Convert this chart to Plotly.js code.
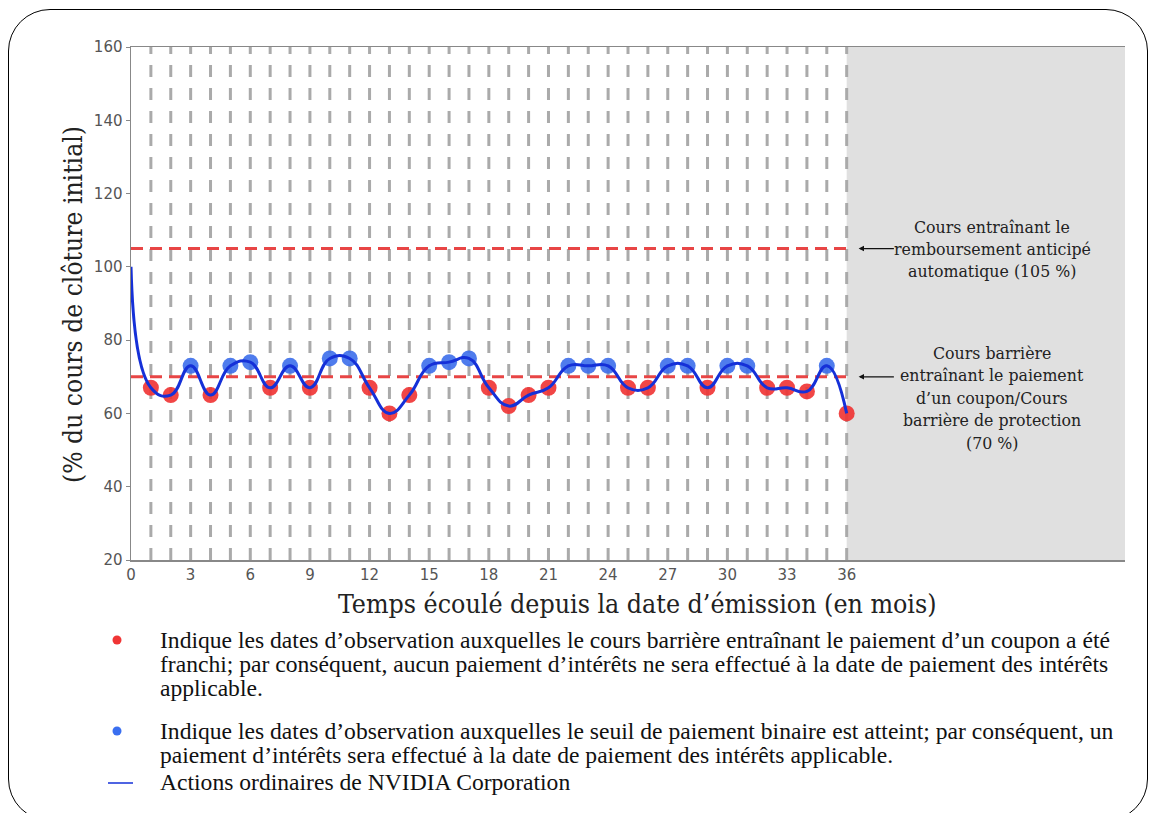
<!DOCTYPE html>
<html>
<head>
<meta charset="utf-8">
<script src="https://cdn.plot.ly/plotly-3.0.1.min.js"></script>
<style>
  html, body { margin: 0; padding: 0; background: #ffffff; }
  #wrap { position: relative; width: 1151px; height: 813px; overflow: hidden; }
  #chart { position: absolute; left: 0; top: 0; width: 1151px; height: 813px; }
  #frame { position: absolute; left: 8px; top: 9px; width: 1138px; height: 810px;
           border: 1.5px solid #000; border-radius: 42px; pointer-events: none; z-index: 5; }
</style>
</head>
<body>
<div id="wrap">
  <div id="chart"></div>
  <div id="frame"></div>
</div>
<script>
// ---------- data ----------
const months = [0,1,2,3,4,5,6,7,8,9,10,11,12,13,14,15,16,17,18,19,20,21,22,23,24,25,26,27,28,29,30,31,32,33,34,35,36];
const levels = [100,67,65,73,65,73,74,67,73,67,75,75,67,60,65,73,74,75,67,62,65,67,73,73,73,67,67,73,73,67,73,73,67,67,66,73,60];
const couponBarrier = 70;      // Cours barrière (70 %)
const autocallLevel = 105;     // Remboursement anticipé automatique (105 %)
const lastMonth = 36;
const xMax = 50;
const xTicks = [0,3,6,9,12,15,18,21,24,27,30,33,36];
const yTicks = [20,40,60,80,100,120,140,160];

const legendLines = [
  "Indique les dates d’observation auxquelles le cours barrière entraînant le paiement d’un coupon a été",
  "franchi; par conséquent, aucun paiement d’intérêts ne sera effectué à la date de paiement des intérêts",
  "applicable.",
  "Indique les dates d’observation auxquelles le seuil de paiement binaire est atteint; par conséquent, un",
  "paiement d’intérêts sera effectué à la date de paiement des intérêts applicable.",
  "Actions ordinaires de NVIDIA Corporation"
];
const autocallNote = ["Cours entraînant le", "remboursement anticipé", "automatique (105 %)"];
const barrierNote = ["Cours barrière", "entraînant le paiement", "d’un coupon/Cours", "barrière de protection", "(70 %)"];

// ---------- derived ----------
const obsX = months.slice(1), obsY = levels.slice(1);
const redX = [], redY = [], blueX = [], blueY = [];
obsX.forEach((m, i) => {
  if (obsY[i] >= couponBarrier) { blueX.push(m); blueY.push(obsY[i]); }
  else { redX.push(m); redY.push(obsY[i]); }
});

// plot area in pixels
const L = 131, R = 26, T = 47, B = 253, W = 1151, H = 813;
const pw = W - L - R, ph = H - T - B;
const px = p => (p - L) / pw;
const py = p => (H - B - p) / ph;

const traces = [
  { x: redX, y: redY, type: 'scatter', mode: 'markers', name: 'franchi',
    marker: { color: 'rgba(240,50,50,0.9)', size: 16 }, showlegend: false, hoverinfo: 'x+y' },
  { x: blueX, y: blueY, type: 'scatter', mode: 'markers', name: 'atteint',
    marker: { color: 'rgba(60,110,235,0.9)', size: 16 }, showlegend: false, hoverinfo: 'x+y' },
  { x: months, y: levels, type: 'scatter', mode: 'lines', name: 'NVIDIA',
    line: { color: '#1530d8', width: 3, shape: 'spline', smoothing: 1.3 }, showlegend: false }
];

const shapes = [];
// shaded region after maturity
shapes.push({ type: 'rect', xref: 'x', yref: 'y', x0: lastMonth, x1: xMax, y0: 20, y1: 160,
  fillcolor: '#e0e0e0', line: { width: 0 }, layer: 'below' });
// vertical dashed lines at each observation date
obsX.forEach(m => shapes.push({ type: 'line', xref: 'x', yref: 'y', x0: m, x1: m, y0: 20, y1: 160,
  line: { color: '#aaaaaa', width: 3, dash: '12px,11px' }, layer: 'below' }));
// horizontal thresholds
[autocallLevel, couponBarrier].forEach(v => shapes.push({ type: 'line', xref: 'x', yref: 'y',
  x0: 0, x1: lastMonth, y0: v, y1: v, line: { color: '#e84545', width: 3, dash: '12px,7px' }, layer: 'below' }));
// legend symbols
const sym = (cx, cy, color) => ({ type: 'circle', xref: 'paper', yref: 'paper',
  xsizemode: 'pixel', ysizemode: 'pixel', xanchor: px(cx), yanchor: py(cy),
  x0: -4.5, x1: 4.5, y0: -4.5, y1: 4.5, fillcolor: color, line: { width: 0 } });
shapes.push(sym(117, 640, '#f03535'));
shapes.push(sym(117, 731, '#3a6ff0'));
shapes.push({ type: 'line', xref: 'paper', yref: 'paper', x0: px(108), x1: px(133), y0: py(783), y1: py(783),
  line: { color: '#1530d8', width: 1.5 } });

const annotations = [];
const serif = 'Liberation Serif, Times New Roman, serif';
// axis titles
annotations.push({ xref: 'paper', yref: 'paper', x: px(637), y: py(603), xanchor: 'center', yanchor: 'middle',
  text: 'Temps écoulé depuis la date d’émission (en mois)', showarrow: false,
  font: { family: 'DejaVu Serif Condensed, DejaVu Serif, serif', size: 26.5, color: '#222' } });
annotations.push({ xref: 'paper', yref: 'paper', x: px(73), y: py(305), xanchor: 'center', yanchor: 'middle',
  textangle: -90, text: '(% du cours de clôture initial)', showarrow: false,
  font: { family: 'DejaVu Serif Condensed, DejaVu Serif, serif', size: 26.2, color: '#222' } });
// notes in the shaded area
const noteFont = { family: 'DejaVu Serif, serif', size: 15.8, color: '#222' };
const noteX = (992 - L) / pw * xMax;
autocallNote.forEach((t, i) => annotations.push({ xref: 'x', yref: 'paper', x: noteX, y: py(227 + 22 * i),
  xanchor: 'center', yanchor: 'middle', text: t, showarrow: false, font: noteFont }));
barrierNote.forEach((t, i) => annotations.push({ xref: 'x', yref: 'paper', x: noteX, y: py(353 + 22.5 * i),
  xanchor: 'center', yanchor: 'middle', text: t, showarrow: false, font: noteFont }));
// arrows
[autocallLevel, couponBarrier].forEach(v => annotations.push({ xref: 'x', yref: 'y', axref: 'x', ayref: 'y',
  x: 36.6, y: v, ax: 38.45, ay: v, text: '', showarrow: true, arrowhead: 2, arrowsize: 0.9,
  arrowwidth: 1.2, arrowcolor: '#111', standoff: 0, startstandoff: 0 }));
// legend text
const legY = [639.5, 663.8, 688, 731, 755, 782];
legendLines.forEach((t, i) => annotations.push({ xref: 'paper', yref: 'paper', x: px(158), y: py(legY[i]),
  xanchor: 'left', yanchor: 'middle', text: t, showarrow: false,
  font: { family: serif, size: 23.6, color: '#111' } }));

const layout = {
  width: W, height: H,
  margin: { l: L, r: R, t: T, b: B, pad: 0 },
  paper_bgcolor: 'rgba(0,0,0,0)', plot_bgcolor: '#ffffff',
  showlegend: false,
  xaxis: { range: [0, xMax], tickvals: xTicks, ticktext: xTicks.map(String), showgrid: false, zeroline: false,
    showline: true, linecolor: '#888', linewidth: 1.5, mirror: true, ticks: '',
    tickfont: { family: 'DejaVu Sans, sans-serif', size: 15, color: '#555' } },
  yaxis: { range: [20, 160], tickvals: yTicks, showgrid: false, zeroline: false,
    showline: true, linecolor: '#888', linewidth: 1.5, ticks: 'outside', ticklen: 4, tickcolor: '#888',
    tickfont: { family: 'DejaVu Sans, sans-serif', size: 15, color: '#555' } },
  shapes: shapes,
  annotations: annotations
};

Plotly.newPlot('chart', traces, layout, { displayModeBar: false, staticPlot: true });
</script>
</body>
</html>
